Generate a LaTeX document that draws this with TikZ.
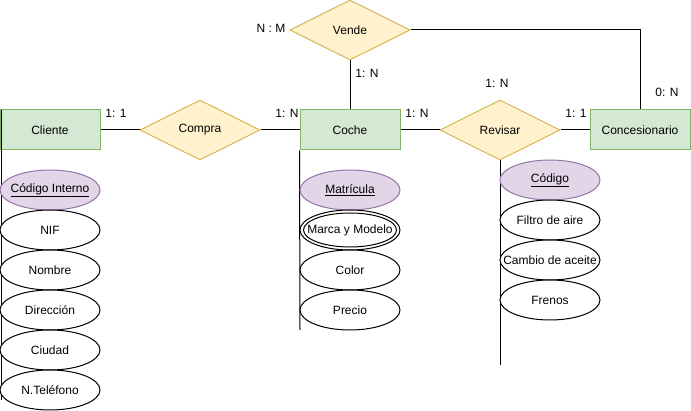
\documentclass[tikz,border=0pt]{standalone}
\usepackage{fontspec}
\setmainfont{Liberation Sans}
\usetikzlibrary{shapes.geometric}
\newcommand{\zb}[1]{\makebox[0pt]{#1}}
\begin{document}
\begin{tikzpicture}[x=1pt,y=-1pt,
  every node/.style={font=\fontsize{12}{14}\selectfont, inner sep=0pt},
  entity/.style={draw=green!40!black!50!yellow!70, draw={rgb,255:red,130;green,179;blue,102}, fill={rgb,255:red,213;green,232;blue,212}, line width=1pt, minimum width=100pt, minimum height=40pt},
  rel/.style={diamond, draw={rgb,255:red,214;green,182;blue,86}, fill={rgb,255:red,255;green,242;blue,204}, line width=1pt, minimum width=120pt, minimum height=60pt, aspect=2},
  attr/.style={ellipse, draw, line width=1pt, fill=white, minimum width=100pt, minimum height=40pt},
  keyattr/.style={attr, draw={rgb,255:red,150;green,115;blue,166}, fill={rgb,255:red,225;green,213;blue,231}},
  conn/.style={line width=1pt},
  card/.style={}]
\useasboundingbox (0,0) rectangle (691,411);

% relationships
\node[rel] (vende) at (350,30) {\zb{Vende}};
\node[rel] (compra) at (200,130) {\zb{Compra}};
\node[rel] (revisar) at (500,130) {\zb{Revisar}};

% entities
\node[entity] (cliente) at (50,130) {Cliente};
\node[entity] (coche) at (350,130) {Coche};
\node[entity] (conc) at (640,130) {Concesionario};

% coordinates
\coordinate (clTop) at (1,110);
\coordinate (clEnd) at (1,400);
\coordinate (coEnd) at (300,330);
\coordinate (reEnd) at (500,365);
\coordinate (corner) at (640,30);

% connectors
\draw[conn] (cliente.east) -- (compra.west);
\draw[conn] (compra.east) -- (coche.west);
\draw[conn] (coche.east) -- (revisar.west);
\draw[conn] (revisar.east) -- (conc.west);
\draw[conn] (vende.south) -- (coche.north);
\draw[conn] (vende.east) -- (corner) -- (conc.north);
\draw[conn] (clTop) -- (clEnd);
\draw[conn] (coche.south west) -- (coEnd);
\draw[conn] (revisar.south) -- (reEnd);

% cliente attributes
\node[keyattr] (ci) at (50,190) {\zb{\underline{Código Interno}}};
\node[attr] (nif) at (50,230) {\zb{NIF}};
\node[attr] (nom) at (50,270) {\zb{Nombre}};
\node[attr] (dir) at (50,310) {\zb{Dirección}};
\node[attr] (ciu) at (50,350) {\zb{Ciudad}};
\node[attr] (tel) at (50,390) {\zb{N.Teléfono}};

% coche attributes
\node[keyattr] (mat) at (350,190) {\zb{\underline{Matrícula}}};
\node[attr] (mm) at (350,230) {\zb{Marca y Modelo}};
\draw[line width=1pt] (350,230) ellipse (46.5pt and 17pt);
\node[attr] (col) at (350,270) {\zb{Color}};
\node[attr] (pre) at (350,310) {\zb{Precio}};

% revisar attributes
\node[keyattr] (cod) at (550,180) {\zb{\underline{Código}}};
\node[attr] (fil) at (550,220) {\zb{Filtro de aire}};
\node[attr] (cam) at (550,260) {\zb{Cambio de aceite}};
\node[attr] (fre) at (550,300) {\zb{Frenos}};

% cardinalities
\node[card] (l1) at (116,113) {1: 1};
\node[card] (l2) at (287,113) {1: N};
\node[card] (l3) at (417,113) {1: N};
\node[card] (l4) at (576,113) {1: 1};
\node[card] (l5) at (667,92) {0: N};
\node[card] (l6) at (497,83) {1: N};
\node[card] (l7) at (367,73) {1: N};
\node[card] (l8) at (271,28) {N : M};
\end{tikzpicture}
\end{document}
